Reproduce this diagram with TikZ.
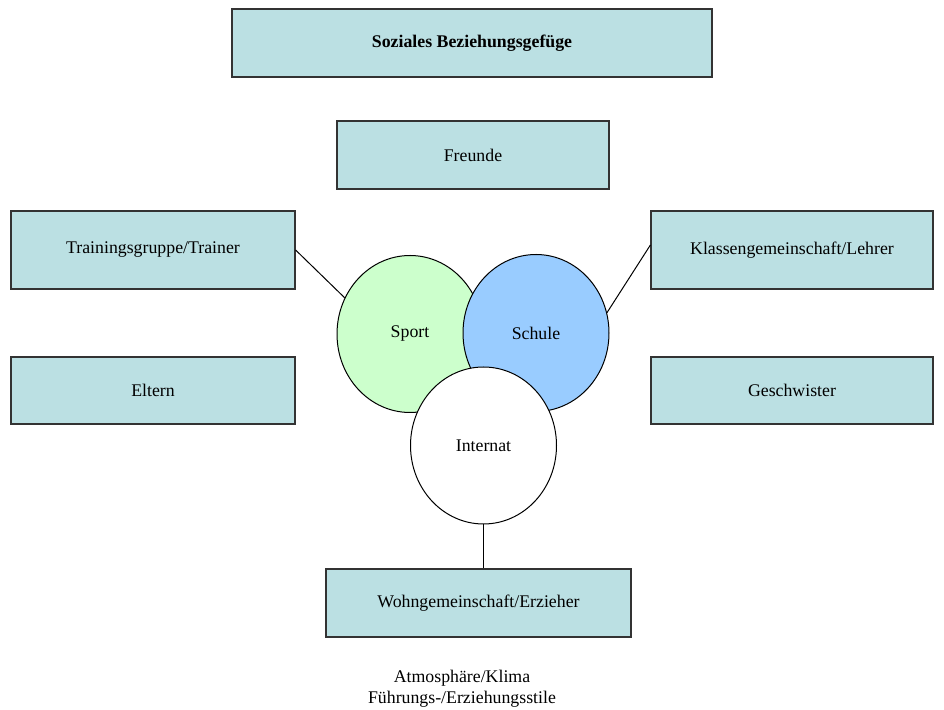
\documentclass[tikz,border=0pt]{standalone}
\usepackage{fontspec}
\setmainfont{Liberation Serif}
\usetikzlibrary{shapes.geometric}
\definecolor{boxfill}{RGB}{187,224,227}
\definecolor{sportfill}{RGB}{204,255,204}
\definecolor{schulefill}{RGB}{153,204,255}
\begin{document}
\begin{tikzpicture}[x=0.5pt,y=-0.5pt,
  every node/.style={font=\fontsize{8.9}{10.7}\selectfont},
  box/.style={draw=black!80, line width=0.6pt, fill=boxfill, rectangle, inner sep=0pt},
  circ/.style={draw=black, line width=0.5pt, ellipse, inner sep=0pt, minimum width=73pt, minimum height=78.5pt},
  conn/.style={draw=black, line width=0.5pt}]
\useasboundingbox (0,0) rectangle (944,710);
\node[box, minimum width=240pt, minimum height=34pt, font=\fontsize{8.9}{10.7}\selectfont\bfseries] (title) at (472,43) {Soziales Beziehungsgefüge};
\node[box, minimum width=136pt, minimum height=34pt] (freunde) at (473,155) {Freunde};
\node[box, minimum width=142pt, minimum height=39pt] (train) at (153,250) {Trainingsgruppe/Trainer};
\node[box, minimum width=142pt, minimum height=33.5pt] (eltern) at (153,390.5) {Eltern};
\node[box, minimum width=141pt, minimum height=39pt] (klassen) at (792,250) {Klassengemeinschaft/Lehrer};
\node[box, minimum width=141pt, minimum height=33.5pt] (geschw) at (792,390.5) {Geschwister};
\node[box, minimum width=152.5pt, minimum height=34pt] (wohn) at (478.5,603) {Wohngemeinschaft/Erzieher};
\node[circ, fill=sportfill] (sport) at (410,334) {Sport};
\node[circ, fill=schulefill] (schule) at (536,333) {Schule};
\node[circ, fill=white] (internat) at (483.5,445.5) {Internat};
\draw[conn] (train.east) -- (sport.151);
\draw[conn] ([yshift=2.5pt]klassen.west) -- (schule.16);
\draw[conn] (internat.south) -- (internat.south |- wohn.north);
\node[align=center, inner sep=0pt] (atmo) at (462,688.5) {Atmosphäre/Klima\\Führungs-/Erziehungsstile};
\end{tikzpicture}
\end{document}
